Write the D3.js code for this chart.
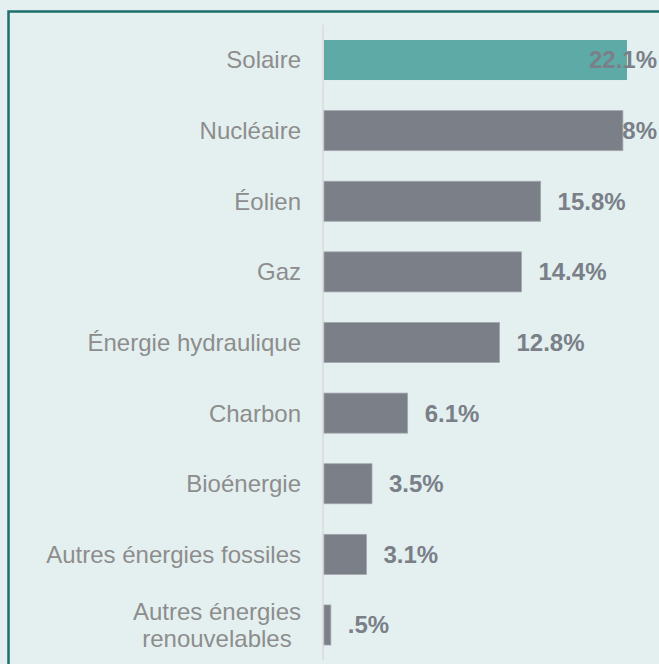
<!DOCTYPE html>
<html>
<head>
<meta charset="utf-8">
<script src="https://cdn.jsdelivr.net/npm/d3@7"></script>
<style>
  html, body { margin: 0; padding: 0; background: #e4f0f0; overflow: hidden; }
  svg { display: block; font-family: Arial, "Liberation Sans", Helvetica, sans-serif; }
</style>
</head>
<body>
<svg id="chart" width="659" height="664"></svg>
<script>
// energy mix shares (%)
const categories = ["Solaire", "Nucléaire", "Éolien", "Gaz", "Énergie hydraulique",
  "Charbon", "Bioénergie", "Autres énergies fossiles", "Autres énergies\nrenouvelables"];
const values = [22.1, 21.8, 15.8, 14.4, 12.8, 6.1, 3.5, 3.1, 0.5];
const highlighted = ["Solaire"];

const W = 659, H = 664;
const svg = d3.select("#chart");

// background + frame (box runs past the right/bottom edges)
svg.append("rect").attr("width", W).attr("height", H).attr("fill", "#e4f0f0");
svg.append("path")
  .attr("d", `M8.5,${H + 2}V11.5H${W + 2}`)
  .attr("fill", "none")
  .attr("stroke", "#1f6e6e")
  .attr("stroke-width", 2.5);

const x = d3.scaleLinear().domain([0, d3.max(values)]).range([324, 627]);
const y = d3.scaleBand().domain(categories).range([24.7, 660.3])
  .paddingInner(0.433).paddingOuter(0.2165);

const data = categories.map((c, i) => ({ cat: c, value: values[i] }));
const fmt = v => d3.format(".1f")(v).replace(/^0\./, ".").replace(/\.0$/, "") + "%";

// axis line
svg.append("line")
  .attr("x1", 323).attr("x2", 323)
  .attr("y1", y.range()[0]).attr("y2", y.range()[1])
  .attr("stroke", "#dedfe0").attr("stroke-width", 2);

// bars
svg.append("g").selectAll("rect")
  .data(data).join("rect")
  .attr("x", x(0))
  .attr("y", d => y(d.cat))
  .attr("width", d => x(d.value) - x(0))
  .attr("height", y.bandwidth())
  .attr("fill", d => highlighted.includes(d.cat) ? "#5eaaa7" : "#7a7f88")
  .attr("stroke", d => highlighted.includes(d.cat) ? "none" : "#a3a7ad")
  .attr("stroke-width", 0.8);

// category labels
const catG = svg.append("g");
data.forEach(d => {
  const lines = d.cat.split("\n");
  const cy = y(d.cat) + y.bandwidth() / 2;
  const t = catG.append("text")
    .attr("font-size", 24)
    .attr("fill", "#8d8d8d");
  const lh = 27;
  lines.forEach((ln, j) => {
    t.append("tspan")
      .attr("x", 301)
      .attr("y", cy + (j - (lines.length - 1) / 2) * lh)
      .attr("dy", "0.35em")
      .text(ln);
  });
  if (lines.length > 1) {
    // wrapped labels are centred on each other
    const maxW = d3.max(t.selectAll("tspan").nodes(), n => n.getComputedTextLength());
    t.attr("text-anchor", "middle").selectAll("tspan").attr("x", 301 - maxW / 2);
  } else {
    t.attr("text-anchor", "end");
  }
});

// value labels (clamped to the right edge)
svg.append("g").selectAll("text")
  .data(data).join("text")
  .attr("font-size", 24)
  .attr("font-weight", "bold")
  .attr("fill", "#7a7f88")
  .attr("y", d => y(d.cat) + y.bandwidth() / 2)
  .attr("dy", "0.35em")
  .text(d => fmt(d.value))
  .attr("x", function(d) {
    const len = this.getComputedTextLength();
    return Math.min(x(d.value) + 17, 657 - len);
  });
</script>
</body>
</html>
